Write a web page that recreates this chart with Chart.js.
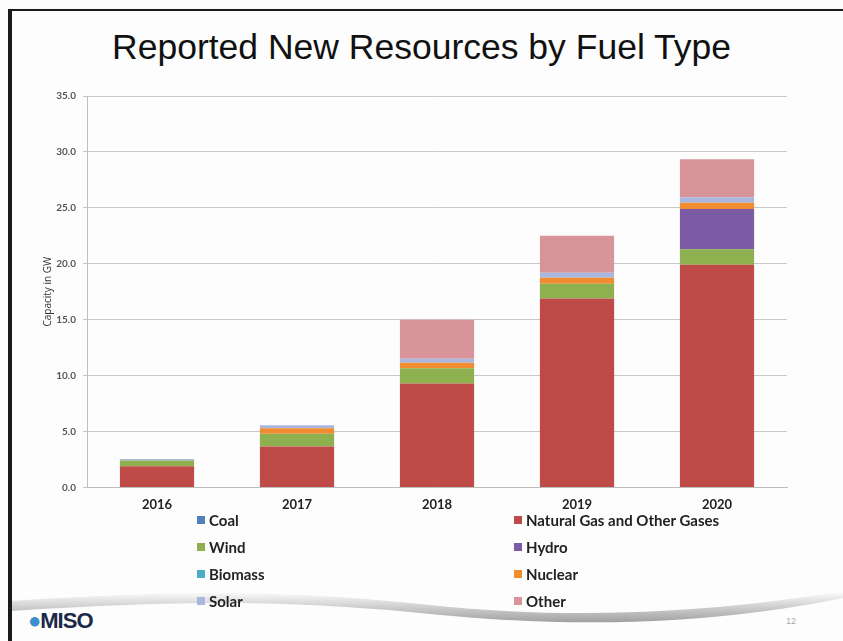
<!DOCTYPE html>
<html>
<head>
<meta charset="utf-8">
<script src="https://cdn.jsdelivr.net/npm/chart.js@4.4.0/dist/chart.umd.min.js"></script>
<style>
  html, body { margin: 0; padding: 0; background: #fff; }
  #slide { position: relative; width: 843px; height: 641px; overflow: hidden; background: #fdfdfd; }
  #frameTop { position: absolute; left: 8px; top: 9px; width: 835px; height: 2px; background: #1a1a1a; }
  #frameLeft { position: absolute; left: 8px; top: 9px; width: 4px; height: 632px; background: #1a1a1a; }
  #title { position: absolute; left: 0; width: 843px; top: 27px; text-align: center;
    font-family: "Liberation Sans", Arial, sans-serif; font-size: 35.5px; color: #111; }
  #chartBox { position: absolute; left: 0; top: 83px; width: 790px; height: 432px; }
  #legend { position: absolute; left: 197px; top: 511px; width: 640px;
    display: grid; grid-template-columns: 317px 300px; row-gap: 9px;
    font-family: Lato, "Open Sans", sans-serif; font-weight: bold; font-size: 15px; color: #222; }
  #legend .item { display: flex; align-items: center; height: 18px; }
  #legend .sw { width: 8px; height: 8px; margin-right: 4px; }
  #swoosh { position: absolute; left: 0; top: 585px; }
  #logo { position: absolute; left: 28px; top: 608px; font-family: "Liberation Sans", Arial, sans-serif;
    font-weight: bold; font-size: 22px; color: #1c2a4a; letter-spacing: -1px; }
  #pagenum { position: absolute; left: 786px; top: 616px; font-family: "Liberation Sans", Arial, sans-serif;
    font-size: 9px; color: #aaa; }
</style>
</head>
<body>
<div id="slide">
  <svg id="swoosh" width="843" height="56">
    <defs>
      <linearGradient id="g" x1="0" y1="0" x2="0" y2="1">
        <stop offset="0" stop-color="#ffffff"/>
        <stop offset="1" stop-color="#a0a0a0"/>
      </linearGradient>
    </defs>
    <path d="M10 16 C 200 4, 300 6, 430 20 C 560 34, 700 30, 843 6 L 843 13 C 700 42, 560 42, 430 29 C 300 16, 200 14, 10 26 Z" fill="url(#g)"/>
  </svg>
  <div id="frameTop"></div>
  <div id="frameLeft"></div>
  <div id="title">Reported New Resources by Fuel Type</div>
  <div id="chartBox"><canvas id="chart"></canvas></div>
  <div id="legend"></div>
  <div id="logo"><span style="color:#3a8fd0">&#9679;</span>MISO</div>
  <div id="pagenum">12</div>
</div>
<script>
// capacity in GW
const years = ['2016', '2017', '2018', '2019', '2020'];
const coal = [0, 0, 0, 0, 0];
const naturalGas = [1.9, 3.65, 9.3, 16.9, 19.9];
const wind = [0.5, 1.15, 1.35, 1.3, 1.4];
const hydro = [0, 0, 0, 0, 3.6];
const biomass = [0, 0, 0, 0, 0];
const nuclear = [0, 0.5, 0.5, 0.55, 0.55];
const solar = [0.15, 0.25, 0.35, 0.45, 0.5];
const other = [0, 0, 3.5, 3.3, 3.4];
const yTicks = [0, 5, 10, 15, 20, 25, 30, 35];

const series = [
  { label: 'Coal', data: coal, color: '#4f81bd' },
  { label: 'Natural Gas and Other Gases', data: naturalGas, color: '#be4b48' },
  { label: 'Wind', data: wind, color: '#8fb04e' },
  { label: 'Hydro', data: hydro, color: '#7a5ba4' },
  { label: 'Biomass', data: biomass, color: '#4bacc6' },
  { label: 'Nuclear', data: nuclear, color: '#f28c30' },
  { label: 'Solar', data: solar, color: '#a9b7df' },
  { label: 'Other', data: other, color: '#d9949a' }
];

const chart = new Chart(document.getElementById('chart').getContext('2d'), {
  type: 'bar',
  data: {
    labels: years,
    datasets: series.map(s => ({
      label: s.label,
      data: s.data,
      backgroundColor: s.color,
      borderWidth: 0,
      categoryPercentage: 1,
      barPercentage: 0.53
    }))
  },
  options: {
    responsive: true,
    maintainAspectRatio: false,
    animation: false,
    layout: { padding: { left: 0, right: 3, top: 6, bottom: 0 } },
    plugins: { legend: { display: false }, tooltip: { enabled: false } },
    scales: {
      x: {
        stacked: true,
        grid: { display: false },
        border: { color: '#bdbdbd' },
        ticks: { color: '#222', font: { family: 'Lato', weight: 'bold', size: 13 }, padding: 2 }
      },
      y: {
        stacked: true,
        min: 0,
        max: 35,
        afterBuildTicks: axis => { axis.ticks = yTicks.map(v => ({ value: v })); },
        afterFit: axis => { axis.width = 87; },
        grid: { color: '#c8c8c8', tickLength: 4 },
        border: { color: '#bdbdbd' },
        ticks: {
          color: '#555',
          font: { family: 'Lato', weight: 'bold', size: 10 },
          padding: 7,
          callback: v => Number(v).toFixed(1)
        },
        title: { display: true, text: 'Capacity in GW', color: '#333',
          font: { family: 'Open Sans', size: 10 }, padding: { top: 42, bottom: 0 } }
      }
    }
  }
});

// two-column legend, same order as the datasets
const legend = document.getElementById('legend');
const leftCol = ['Coal', 'Wind', 'Biomass', 'Solar'];
const rightCol = ['Natural Gas and Other Gases', 'Hydro', 'Nuclear', 'Other'];
for (let i = 0; i < 4; i++) {
  [leftCol[i], rightCol[i]].forEach(name => {
    const ds = chart.data.datasets.find(d => d.label === name);
    const item = document.createElement('div');
    item.className = 'item';
    item.innerHTML = '<span class="sw" style="background:' + ds.backgroundColor + '"></span>' + ds.label;
    legend.appendChild(item);
  });
}
</script>
</body>
</html>
